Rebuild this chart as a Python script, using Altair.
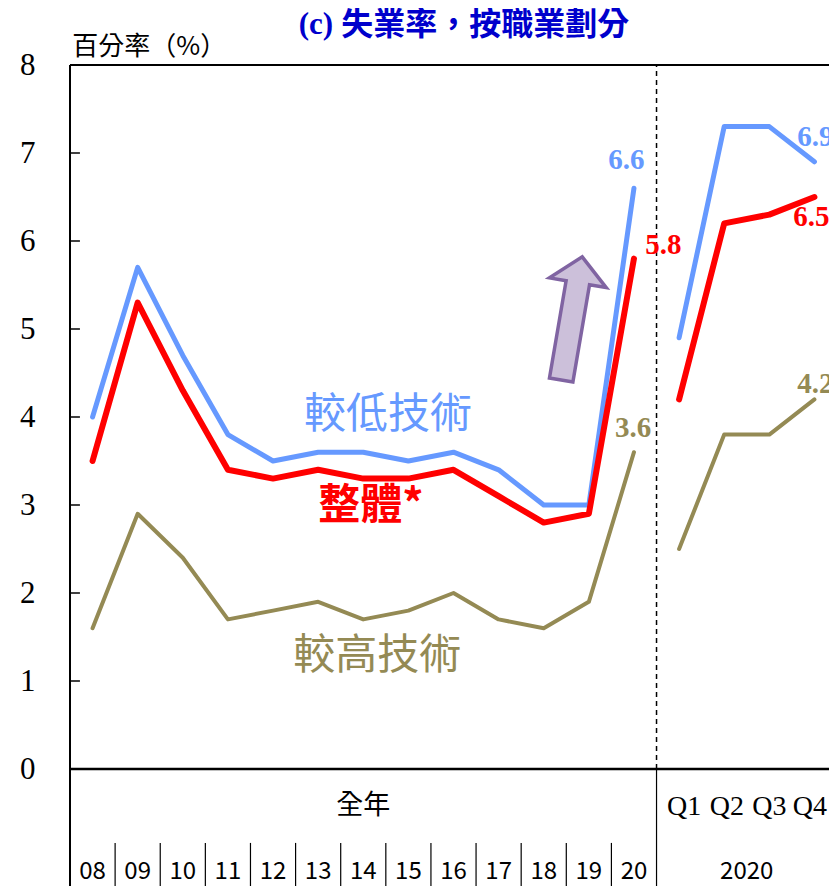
import altair as alt
import pandas as pd

# ---------------- data ----------------
years = ["08", "09", "10", "11", "12", "13", "14", "15", "16", "17", "18", "19", "20"]
quarters = ["Q1", "Q2", "Q3", "Q4"]
lower_skilled = [4.0, 5.7, 4.7, 3.8, 3.5, 3.6, 3.6, 3.5, 3.6, 3.4, 3.0, 3.0, 6.6, 4.9, 7.3, 7.3, 6.9]
overall = [3.5, 5.3, 4.3, 3.4, 3.3, 3.4, 3.3, 3.3, 3.4, 3.1, 2.8, 2.9, 5.8, 4.2, 6.2, 6.3, 6.5]
higher_skilled = [1.6, 2.9, 2.4, 1.7, 1.8, 1.9, 1.7, 1.8, 2.0, 1.7, 1.6, 1.9, 3.6, 2.5, 3.8, 3.8, 4.2]

series_names = ["較低技術", "整體*", "較高技術"]
series_colors = ["#6699FF", "#FF0000", "#948A54"]

# end-value labels (text, x index, y value)
value_text = ["6.6", "5.8", "3.6", "6.9", "6.5", "4.2"]
value_x = [11.83, 12.65, 11.98, 16.02, 15.93, 16.02]
value_y = [6.92, 5.95, 3.88, 7.18, 6.27, 4.38]
value_series = ["較低技術", "整體*", "較高技術", "較低技術", "整體*", "較高技術"]

# series name labels
name_x = [6.55, 6.17, 6.31]
name_y = [4.02, 2.99, 1.28]

# quarter label positions in the table (slightly packed, as in the source)
quarter_label_x = [13.11, 14.06, 15.0, 15.9]

n_years = len(years)
idx_all = list(range(n_years + len(quarters)))

rows = []
for name, vals in zip(series_names, [lower_skilled, overall, higher_skilled]):
    for i, v in zip(idx_all, vals):
        rows.append({"series": name, "idx": i, "value": v,
                     "seg": "annual" if i < n_years else "quarter"})
df = pd.DataFrame(rows)

# one category slot = 767/17 px; the plot is cut at the page's right edge
SLOT = 767 / 17
W, H = 759, 704
X_DOMAIN = [-0.5, -0.5 + W / SLOT]
TABLE_BOTTOM = -1.33


def X(field="idx"):
    return alt.X(f"{field}:Q", scale=alt.Scale(domain=X_DOMAIN, nice=False, zero=False), axis=None)


def Y(field="value"):
    return alt.Y(f"{field}:Q", scale=alt.Scale(domain=[0, 8], nice=False, zero=False),
                 axis=alt.Axis(values=list(range(0, 9)), title=None, grid=False, ticks=False,
                               domain=False, labelFont="Liberation Serif", labelFontSize=31,
                               labelColor="black", labelPadding=35, labelFlush=False))


layers = []

# ---------- frame & table lines ----------
layers.append(alt.Chart(pd.DataFrame({"x": [-0.5], "x2": [17.5], "y": [8.0]})).mark_rule(
    color="black", strokeWidth=2).encode(x=X("x"), x2="x2:Q", y=Y("y")))
layers.append(alt.Chart(pd.DataFrame({"x": [-0.5], "x2": [17.5], "y": [0.0]})).mark_rule(
    color="black", strokeWidth=2.5).encode(x=X("x"), x2="x2:Q", y=Y("y")))
# left border (through table)
layers.append(alt.Chart(pd.DataFrame({"x": [-0.5], "y": [TABLE_BOTTOM - 0.1], "y2": [8.0]})).mark_rule(
    color="black", strokeWidth=2).encode(x=X("x"), y=Y("y"), y2="y2:Q"))
# inward ticks
tick_df = pd.DataFrame({"x": [-0.5] * 7, "x2": [-0.28] * 7, "y": list(range(1, 8))})
layers.append(alt.Chart(tick_df).mark_rule(color="black", strokeWidth=1.5).encode(
    x=X("x"), x2="x2:Q", y=Y("y")))
# dashed divider in plot
div = n_years - 0.5
layers.append(alt.Chart(pd.DataFrame({"x": [div], "y": [0.0], "y2": [8.0]})).mark_rule(
    color="black", strokeWidth=1.5, strokeDash=[5, 4]).encode(x=X("x"), y=Y("y"), y2="y2:Q"))
# solid divider in table
layers.append(alt.Chart(pd.DataFrame({"x": [div], "y": [TABLE_BOTTOM - 0.1], "y2": [0.0]})).mark_rule(
    color="black", strokeWidth=1.2).encode(x=X("x"), y=Y("y"), y2="y2:Q"))
# year separators in bottom row
sep_df = pd.DataFrame({"x": [k + 0.5 for k in range(n_years - 1)],
                       "y": [TABLE_BOTTOM - 0.1] * (n_years - 1), "y2": [-0.84] * (n_years - 1)})
layers.append(alt.Chart(sep_df).mark_rule(color="black", strokeWidth=1.2).encode(
    x=X("x"), y=Y("y"), y2="y2:Q"))

# ---------- arrow ----------
arrow_path = "M0,-1 L0.46,-0.58 L0.19,-0.58 L0.19,1 L-0.19,1 L-0.19,-0.58 L-0.46,-0.58 Z"
layers.append(alt.Chart(pd.DataFrame({"x": [10.62], "y": [5.12]})).mark_point(
    shape=arrow_path, size=15625, angle=9.7, filled=True, fill="#CCC0DA", stroke="#8064A2",
    strokeWidth=3.5, opacity=1, fillOpacity=1, strokeOpacity=1).encode(x=X("x"), y=Y("y")))

# ---------- lines (blue, olive, red on top) ----------
for name, color, width in [(series_names[0], series_colors[0], 5),
                           (series_names[2], series_colors[2], 4),
                           (series_names[1], series_colors[1], 6)]:
    layers.append(alt.Chart(df[df["series"] == name]).mark_line(
        color=color, strokeWidth=width, strokeCap="round", strokeJoin="round").encode(
        x=X(), y=Y(), detail="seg:N"))

# ---------- value labels ----------
vdf = pd.DataFrame({"x": value_x, "y": value_y, "t": value_text, "s": value_series})
layers.append(alt.Chart(vdf).mark_text(font="Liberation Serif", fontWeight="bold", fontSize=29,
                                       baseline="middle", align="center").encode(
    x=X("x"), y=Y("y"), text="t:N",
    color=alt.Color("s:N", scale=alt.Scale(domain=series_names, range=series_colors), legend=None)))

# ---------- series names ----------
for k, name in enumerate(series_names):
    layers.append(alt.Chart(pd.DataFrame({"x": [name_x[k]], "y": [name_y[k]], "t": [name]})).mark_text(
        font="Noto Sans CJK TC", fontSize=42, fontWeight="bold" if k == 1 else "normal",
        color=series_colors[k], baseline="middle", align="center").encode(
        x=X("x"), y=Y("y"), text="t:N"))

# ---------- table text ----------
year_df = pd.DataFrame({"x": list(range(n_years)), "y": [-1.17] * n_years, "t": years})
layers.append(alt.Chart(year_df).mark_text(font="Noto Sans CJK TC", fontSize=24, color="black",
                                           baseline="middle", align="center").encode(
    x=X("x"), y=Y("y"), text="t:N"))
q_df = pd.DataFrame({"x": quarter_label_x, "y": [-0.43] * 4, "t": quarters})
layers.append(alt.Chart(q_df).mark_text(font="Liberation Serif", fontSize=28, color="black",
                                        baseline="middle", align="center").encode(
    x=X("x"), y=Y("y"), text="t:N"))
grp_x = [(n_years - 1) / 2, n_years + 1.5]
grp_y = [-0.42, -1.17]
grp_t = ["全年", "2020"]
layers.append(alt.Chart(pd.DataFrame({"x": [grp_x[0]], "y": [grp_y[0]], "t": [grp_t[0]]})).mark_text(
    font="Noto Sans CJK TC", fontSize=27, color="black", baseline="middle", align="center").encode(
    x=X("x"), y=Y("y"), text="t:N"))
layers.append(alt.Chart(pd.DataFrame({"x": [grp_x[1]], "y": [grp_y[1]], "t": [grp_t[1]]})).mark_text(
    font="Noto Sans CJK TC", fontSize=24, color="black", baseline="middle", align="center").encode(
    x=X("x"), y=Y("y"), text="t:N"))

# ---------- titles ----------
layers.append(alt.Chart(pd.DataFrame({"x": [-0.45], "y": [8.2], "t": ["百分率（%）"]})).mark_text(
    font="Noto Sans CJK TC", fontSize=26, color="black", baseline="middle", align="left").encode(
    x=X("x"), y=Y("y"), text="t:N"))
layers.append(alt.Chart(pd.DataFrame({"x": [5.33], "y": [8.45], "t": ["(c)"]})).mark_text(
    font="Liberation Serif", fontWeight="bold", fontSize=31, color="#0000CC", baseline="middle",
    align="right").encode(x=X("x"), y=Y("y"), text="t:N"))
layers.append(alt.Chart(pd.DataFrame({"x": [5.51], "y": [8.45], "t": ["失業率，按職業劃分"]})).mark_text(
    font="Noto Sans CJK TC", fontWeight="bold", fontSize=32, color="#0000CC", baseline="middle",
    align="left").encode(x=X("x"), y=Y("y"), text="t:N"))

chart = alt.layer(*layers).properties(
    width=W, height=H,
    autosize=alt.AutoSizeParams(type="none"),
    padding={"left": 62, "top": 57, "right": 0, "bottom": 117},
    background="white",
).configure_view(stroke=None)

chart.save("out.html", embed_options={"renderer": "svg", "actions": False})
